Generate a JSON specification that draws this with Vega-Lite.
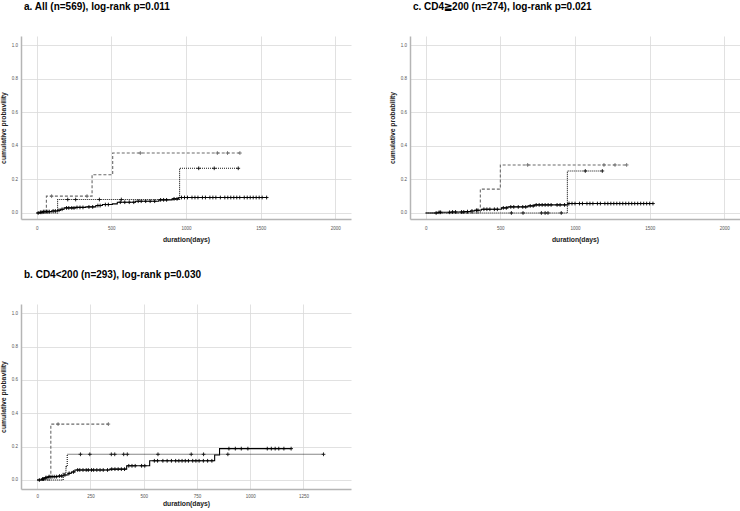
{
  "$schema": "https://vega.github.io/schema/vega-lite/v6.json",
  "background": "white",
  "padding": {"left": 0, "top": 2, "right": 0, "bottom": 0},
  "columns": 2,
  "spacing": {"row": 26, "column": 38},
  "config": {
    "font": "Liberation Sans",
    "view": {"stroke": null},
    "axis": {
      "domainColor": "#b5b5b5", "domainWidth": 1.5,
      "gridColor": "#d9d9d9", "gridWidth": 0.8,
      "ticks": false,
      "labelFontSize": 4.5, "labelColor": "#555555",
      "titleFontSize": 6.8, "titleFontWeight": "bold", "titleColor": "#222222"
    },
    "axisX": {"labelPadding": 6, "titlePadding": 7, "format": "d"},
    "axisY": {"labelPadding": 3.5, "titleX": -15},
    "title": {"anchor": "start", "frame": "group", "dx": 3, "fontSize": 10, "fontWeight": "bold", "color": "#000000", "offset": 24}
  },
  "concat": [
    {
      "title": "a. All (n=569), log-rank p=0.011",
      "width": 330, "height": 183,
      "data": {"values": [
        {"k":"s","g":"S","t":0,"p":0},{"k":"s","g":"S","t":20,"p":0.004},{"k":"s","g":"S","t":40,"p":0.008},{"k":"s","g":"S","t":100,"p":0.012},{"k":"s","g":"S","t":140,"p":0.016},{"k":"s","g":"S","t":160,"p":0.022},{"k":"s","g":"S","t":184,"p":0.03},{"k":"s","g":"S","t":260,"p":0.033},{"k":"s","g":"S","t":329,"p":0.036},{"k":"s","g":"S","t":396,"p":0.044},{"k":"s","g":"S","t":440,"p":0.05},{"k":"s","g":"S","t":507,"p":0.054},{"k":"s","g":"S","t":540,"p":0.064},{"k":"s","g":"S","t":662,"p":0.07},{"k":"s","g":"S","t":818,"p":0.078},{"k":"s","g":"S","t":907,"p":0.084},{"k":"s","g":"S","t":951,"p":0.092},{"k":"s","g":"S","t":1540,"p":0.092},
        {"k":"s","g":"D","t":0,"p":0},{"k":"s","g":"D","t":65,"p":0.1},{"k":"s","g":"D","t":371,"p":0.228},{"k":"s","g":"D","t":509,"p":0.357},{"k":"s","g":"D","t":1361,"p":0.357},
        {"k":"s","g":"T","t":0,"p":0},{"k":"s","g":"T","t":140,"p":0.08},{"k":"s","g":"T","t":957,"p":0.266},{"k":"s","g":"T","t":1350,"p":0.266},
        {"k":"c","g":"D","t":100,"p":0.1},{"k":"c","g":"D","t":337,"p":0.1},{"k":"c","g":"D","t":694,"p":0.357},{"k":"c","g":"D","t":1210,"p":0.357},{"k":"c","g":"D","t":1278,"p":0.357},{"k":"c","g":"D","t":1361,"p":0.357},
        {"k":"c","g":"T","t":208,"p":0.08},{"k":"c","g":"T","t":261,"p":0.08},{"k":"c","g":"T","t":420,"p":0.08},{"k":"c","g":"T","t":567,"p":0.08},{"k":"c","g":"T","t":1085,"p":0.266},{"k":"c","g":"T","t":1189,"p":0.266},{"k":"c","g":"T","t":1350,"p":0.266},
        {"k":"c","g":"S","t":10,"p":0},{"k":"c","g":"S","t":25,"p":0.004},{"k":"c","g":"S","t":35,"p":0.004},{"k":"c","g":"S","t":45,"p":0.008},{"k":"c","g":"S","t":55,"p":0.008},{"k":"c","g":"S","t":65,"p":0.008},{"k":"c","g":"S","t":75,"p":0.008},{"k":"c","g":"S","t":85,"p":0.008},{"k":"c","g":"S","t":110,"p":0.012},{"k":"c","g":"S","t":125,"p":0.012},{"k":"c","g":"S","t":150,"p":0.016},{"k":"c","g":"S","t":170,"p":0.022},{"k":"c","g":"S","t":200,"p":0.03},{"k":"c","g":"S","t":215,"p":0.03},{"k":"c","g":"S","t":235,"p":0.03},{"k":"c","g":"S","t":250,"p":0.03},{"k":"c","g":"S","t":270,"p":0.033},{"k":"c","g":"S","t":290,"p":0.033},{"k":"c","g":"S","t":310,"p":0.033},{"k":"c","g":"S","t":350,"p":0.036},{"k":"c","g":"S","t":375,"p":0.036},{"k":"c","g":"S","t":410,"p":0.044},{"k":"c","g":"S","t":425,"p":0.044},{"k":"c","g":"S","t":460,"p":0.05},{"k":"c","g":"S","t":480,"p":0.05},{"k":"c","g":"S","t":560,"p":0.064},{"k":"c","g":"S","t":590,"p":0.064},{"k":"c","g":"S","t":620,"p":0.064},{"k":"c","g":"S","t":650,"p":0.064},{"k":"c","g":"S","t":680,"p":0.07},{"k":"c","g":"S","t":700,"p":0.07},{"k":"c","g":"S","t":730,"p":0.07},{"k":"c","g":"S","t":760,"p":0.07},{"k":"c","g":"S","t":790,"p":0.07},{"k":"c","g":"S","t":830,"p":0.078},{"k":"c","g":"S","t":850,"p":0.078},{"k":"c","g":"S","t":870,"p":0.078},{"k":"c","g":"S","t":920,"p":0.084},{"k":"c","g":"S","t":940,"p":0.084},{"k":"c","g":"S","t":970,"p":0.092},{"k":"c","g":"S","t":990,"p":0.092},{"k":"c","g":"S","t":1010,"p":0.092},{"k":"c","g":"S","t":1040,"p":0.092},{"k":"c","g":"S","t":1060,"p":0.092},{"k":"c","g":"S","t":1080,"p":0.092},{"k":"c","g":"S","t":1110,"p":0.092},{"k":"c","g":"S","t":1130,"p":0.092},{"k":"c","g":"S","t":1160,"p":0.092},{"k":"c","g":"S","t":1180,"p":0.092},{"k":"c","g":"S","t":1200,"p":0.092},{"k":"c","g":"S","t":1230,"p":0.092},{"k":"c","g":"S","t":1260,"p":0.092},{"k":"c","g":"S","t":1280,"p":0.092},{"k":"c","g":"S","t":1300,"p":0.092},{"k":"c","g":"S","t":1320,"p":0.092},{"k":"c","g":"S","t":1340,"p":0.092},{"k":"c","g":"S","t":1360,"p":0.092},{"k":"c","g":"S","t":1390,"p":0.092},{"k":"c","g":"S","t":1410,"p":0.092},{"k":"c","g":"S","t":1430,"p":0.092},{"k":"c","g":"S","t":1450,"p":0.092},{"k":"c","g":"S","t":1470,"p":0.092},{"k":"c","g":"S","t":1490,"p":0.092},{"k":"c","g":"S","t":1510,"p":0.092},{"k":"c","g":"S","t":1540,"p":0.092}
      ]},
      "encoding": {
        "x": {"field": "t", "type": "quantitative", "scale": {"domain": [-105, 2105], "nice": false, "zero": false}, "axis": {"values": [0, 500, 1000, 1500, 2000], "title": "duration(days)"}},
        "y": {"field": "p", "type": "quantitative", "scale": {"domain": [-0.036, 1.054], "nice": false, "zero": false}, "axis": {"values": [0, 0.2, 0.4, 0.6, 0.8, 1.0], "format": ".1f", "title": "cumulative probavility"}},
        "color": {"field": "g", "type": "nominal", "scale": {"domain": ["S", "D", "T"], "range": ["#000000", "#6a6a6a", "#111111"]}, "legend": null}
      },
      "layer": [
        {"transform": [{"filter": "datum.k == 's'"}], "mark": {"type": "line", "interpolate": "step-after", "strokeWidth": 1.1},
         "encoding": {"strokeDash": {"field": "g", "type": "nominal", "scale": {"domain": ["S", "D", "T"], "range": [[1, 0], [3, 2], [1, 1]]}, "legend": null}}},
        {"transform": [{"filter": "datum.k == 'c'"}], "mark": {"type": "point", "shape": "M-1,0H1M0,-1V1", "size": 14, "filled": false, "strokeWidth": 0.9, "opacity": 1}}
      ]
    },
    {
      "title": "c. CD4≧200 (n=274), log-rank p=0.021",
      "width": 330, "height": 183,
      "data": {"values": [
        {"k":"s","g":"S","t":0,"p":0},{"k":"s","g":"S","t":83,"p":0.004},{"k":"s","g":"S","t":172,"p":0.006},{"k":"s","g":"S","t":261,"p":0.008},{"k":"s","g":"S","t":300,"p":0.012},{"k":"s","g":"S","t":328,"p":0.016},{"k":"s","g":"S","t":373,"p":0.022},{"k":"s","g":"S","t":507,"p":0.03},{"k":"s","g":"S","t":551,"p":0.036},{"k":"s","g":"S","t":685,"p":0.042},{"k":"s","g":"S","t":730,"p":0.048},{"k":"s","g":"S","t":953,"p":0.056},{"k":"s","g":"S","t":1522,"p":0.056},
        {"k":"s","g":"D","t":0,"p":0},{"k":"s","g":"D","t":366,"p":0.142},{"k":"s","g":"D","t":500,"p":0.286},{"k":"s","g":"D","t":1346,"p":0.286},
        {"k":"s","g":"T","t":0,"p":0},{"k":"s","g":"T","t":949,"p":0.25},{"k":"s","g":"T","t":1183,"p":0.25},
        {"k":"c","g":"D","t":683,"p":0.286},{"k":"c","g":"D","t":1194,"p":0.286},{"k":"c","g":"D","t":1268,"p":0.286},{"k":"c","g":"D","t":1346,"p":0.286},
        {"k":"c","g":"T","t":574,"p":0},{"k":"c","g":"T","t":652,"p":0},{"k":"c","g":"T","t":775,"p":0},{"k":"c","g":"T","t":800,"p":0},{"k":"c","g":"T","t":819,"p":0},{"k":"c","g":"T","t":908,"p":0},{"k":"c","g":"T","t":1069,"p":0.25},{"k":"c","g":"T","t":1183,"p":0.25},
        {"k":"c","g":"S","t":70,"p":0},{"k":"c","g":"S","t":90,"p":0.004},{"k":"c","g":"S","t":100,"p":0.004},{"k":"c","g":"S","t":160,"p":0.004},{"k":"c","g":"S","t":180,"p":0.006},{"k":"c","g":"S","t":200,"p":0.006},{"k":"c","g":"S","t":240,"p":0.006},{"k":"c","g":"S","t":255,"p":0.006},{"k":"c","g":"S","t":280,"p":0.008},{"k":"c","g":"S","t":310,"p":0.012},{"k":"c","g":"S","t":340,"p":0.016},{"k":"c","g":"S","t":350,"p":0.016},{"k":"c","g":"S","t":390,"p":0.022},{"k":"c","g":"S","t":410,"p":0.022},{"k":"c","g":"S","t":430,"p":0.022},{"k":"c","g":"S","t":460,"p":0.022},{"k":"c","g":"S","t":480,"p":0.022},{"k":"c","g":"S","t":520,"p":0.03},{"k":"c","g":"S","t":540,"p":0.03},{"k":"c","g":"S","t":570,"p":0.036},{"k":"c","g":"S","t":590,"p":0.036},{"k":"c","g":"S","t":620,"p":0.036},{"k":"c","g":"S","t":650,"p":0.036},{"k":"c","g":"S","t":670,"p":0.036},{"k":"c","g":"S","t":700,"p":0.042},{"k":"c","g":"S","t":720,"p":0.042},{"k":"c","g":"S","t":740,"p":0.048},{"k":"c","g":"S","t":760,"p":0.048},{"k":"c","g":"S","t":780,"p":0.048},{"k":"c","g":"S","t":800,"p":0.048},{"k":"c","g":"S","t":820,"p":0.048},{"k":"c","g":"S","t":840,"p":0.048},{"k":"c","g":"S","t":880,"p":0.048},{"k":"c","g":"S","t":900,"p":0.048},{"k":"c","g":"S","t":930,"p":0.048},{"k":"c","g":"S","t":960,"p":0.056},{"k":"c","g":"S","t":980,"p":0.056},{"k":"c","g":"S","t":1000,"p":0.056},{"k":"c","g":"S","t":1030,"p":0.056},{"k":"c","g":"S","t":1050,"p":0.056},{"k":"c","g":"S","t":1080,"p":0.056},{"k":"c","g":"S","t":1100,"p":0.056},{"k":"c","g":"S","t":1120,"p":0.056},{"k":"c","g":"S","t":1150,"p":0.056},{"k":"c","g":"S","t":1170,"p":0.056},{"k":"c","g":"S","t":1200,"p":0.056},{"k":"c","g":"S","t":1220,"p":0.056},{"k":"c","g":"S","t":1240,"p":0.056},{"k":"c","g":"S","t":1260,"p":0.056},{"k":"c","g":"S","t":1280,"p":0.056},{"k":"c","g":"S","t":1300,"p":0.056},{"k":"c","g":"S","t":1320,"p":0.056},{"k":"c","g":"S","t":1340,"p":0.056},{"k":"c","g":"S","t":1360,"p":0.056},{"k":"c","g":"S","t":1380,"p":0.056},{"k":"c","g":"S","t":1400,"p":0.056},{"k":"c","g":"S","t":1420,"p":0.056},{"k":"c","g":"S","t":1440,"p":0.056},{"k":"c","g":"S","t":1460,"p":0.056},{"k":"c","g":"S","t":1480,"p":0.056},{"k":"c","g":"S","t":1500,"p":0.056},{"k":"c","g":"S","t":1522,"p":0.056}
      ]},
      "encoding": {
        "x": {"field": "t", "type": "quantitative", "scale": {"domain": [-105, 2105], "nice": false, "zero": false}, "axis": {"values": [0, 500, 1000, 1500, 2000], "title": "duration(days)"}},
        "y": {"field": "p", "type": "quantitative", "scale": {"domain": [-0.036, 1.054], "nice": false, "zero": false}, "axis": {"values": [0, 0.2, 0.4, 0.6, 0.8, 1.0], "format": ".1f", "title": "cumulative probability"}},
        "color": {"field": "g", "type": "nominal", "scale": {"domain": ["S", "D", "T"], "range": ["#000000", "#6a6a6a", "#111111"]}, "legend": null}
      },
      "layer": [
        {"transform": [{"filter": "datum.k == 's'"}], "mark": {"type": "line", "interpolate": "step-after", "strokeWidth": 1.1},
         "encoding": {"strokeDash": {"field": "g", "type": "nominal", "scale": {"domain": ["S", "D", "T"], "range": [[1, 0], [3, 2], [1, 1]]}, "legend": null}}},
        {"transform": [{"filter": "datum.k == 'c'"}], "mark": {"type": "point", "shape": "M-1,0H1M0,-1V1", "size": 14, "filled": false, "strokeWidth": 0.9, "opacity": 1}}
      ]
    },
    {
      "title": "b. CD4<200 (n=293), log-rank p=0.030",
      "width": 330, "height": 185,
      "data": {"values": [
        {"k":"s","g":"S","t":0,"p":0},{"k":"s","g":"S","t":20,"p":0.006},{"k":"s","g":"S","t":36,"p":0.014},{"k":"s","g":"S","t":52,"p":0.02},{"k":"s","g":"S","t":98,"p":0.024},{"k":"s","g":"S","t":122,"p":0.03},{"k":"s","g":"S","t":145,"p":0.04},{"k":"s","g":"S","t":161,"p":0.048},{"k":"s","g":"S","t":177,"p":0.06},{"k":"s","g":"S","t":341,"p":0.065},{"k":"s","g":"S","t":420,"p":0.085},{"k":"s","g":"S","t":528,"p":0.115},{"k":"s","g":"S","t":833,"p":0.15},{"k":"s","g":"S","t":856,"p":0.188},{"k":"s","g":"S","t":1192,"p":0.188},
        {"k":"s","g":"D","t":0,"p":0},{"k":"s","g":"D","t":64,"p":0.335},{"k":"s","g":"D","t":334,"p":0.335},
        {"k":"s","g":"T","t":0,"p":0},{"k":"s","g":"T","t":122,"p":0.04},{"k":"s","g":"T","t":135,"p":0.08},{"k":"s","g":"T","t":141,"p":0.154},{"k":"s","g":"T","t":1344,"p":0.154},
        {"k":"c","g":"D","t":98,"p":0.335},{"k":"c","g":"D","t":334,"p":0.335},
        {"k":"c","g":"T","t":203,"p":0.154},{"k":"c","g":"T","t":247,"p":0.154},{"k":"c","g":"T","t":348,"p":0.154},{"k":"c","g":"T","t":364,"p":0.154},{"k":"c","g":"T","t":406,"p":0.154},{"k":"c","g":"T","t":423,"p":0.154},{"k":"c","g":"T","t":567,"p":0.154},{"k":"c","g":"T","t":723,"p":0.154},{"k":"c","g":"T","t":781,"p":0.154},{"k":"c","g":"T","t":895,"p":0.154},{"k":"c","g":"T","t":1344,"p":0.154},
        {"k":"c","g":"S","t":10,"p":0},{"k":"c","g":"S","t":25,"p":0.006},{"k":"c","g":"S","t":30,"p":0.006},{"k":"c","g":"S","t":40,"p":0.014},{"k":"c","g":"S","t":45,"p":0.014},{"k":"c","g":"S","t":55,"p":0.02},{"k":"c","g":"S","t":60,"p":0.02},{"k":"c","g":"S","t":70,"p":0.02},{"k":"c","g":"S","t":80,"p":0.02},{"k":"c","g":"S","t":90,"p":0.02},{"k":"c","g":"S","t":105,"p":0.024},{"k":"c","g":"S","t":115,"p":0.024},{"k":"c","g":"S","t":130,"p":0.03},{"k":"c","g":"S","t":150,"p":0.04},{"k":"c","g":"S","t":170,"p":0.048},{"k":"c","g":"S","t":190,"p":0.06},{"k":"c","g":"S","t":200,"p":0.06},{"k":"c","g":"S","t":215,"p":0.06},{"k":"c","g":"S","t":230,"p":0.06},{"k":"c","g":"S","t":240,"p":0.06},{"k":"c","g":"S","t":255,"p":0.06},{"k":"c","g":"S","t":265,"p":0.06},{"k":"c","g":"S","t":280,"p":0.06},{"k":"c","g":"S","t":295,"p":0.06},{"k":"c","g":"S","t":310,"p":0.06},{"k":"c","g":"S","t":330,"p":0.06},{"k":"c","g":"S","t":350,"p":0.065},{"k":"c","g":"S","t":365,"p":0.065},{"k":"c","g":"S","t":380,"p":0.065},{"k":"c","g":"S","t":395,"p":0.065},{"k":"c","g":"S","t":410,"p":0.065},{"k":"c","g":"S","t":430,"p":0.085},{"k":"c","g":"S","t":445,"p":0.085},{"k":"c","g":"S","t":460,"p":0.085},{"k":"c","g":"S","t":490,"p":0.085},{"k":"c","g":"S","t":505,"p":0.085},{"k":"c","g":"S","t":550,"p":0.115},{"k":"c","g":"S","t":565,"p":0.115},{"k":"c","g":"S","t":590,"p":0.115},{"k":"c","g":"S","t":610,"p":0.115},{"k":"c","g":"S","t":630,"p":0.115},{"k":"c","g":"S","t":650,"p":0.115},{"k":"c","g":"S","t":665,"p":0.115},{"k":"c","g":"S","t":680,"p":0.115},{"k":"c","g":"S","t":695,"p":0.115},{"k":"c","g":"S","t":710,"p":0.115},{"k":"c","g":"S","t":730,"p":0.115},{"k":"c","g":"S","t":745,"p":0.115},{"k":"c","g":"S","t":760,"p":0.115},{"k":"c","g":"S","t":780,"p":0.115},{"k":"c","g":"S","t":800,"p":0.115},{"k":"c","g":"S","t":820,"p":0.115},{"k":"c","g":"S","t":900,"p":0.188},{"k":"c","g":"S","t":930,"p":0.188},{"k":"c","g":"S","t":958,"p":0.188},{"k":"c","g":"S","t":989,"p":0.188},{"k":"c","g":"S","t":1080,"p":0.188},{"k":"c","g":"S","t":1099,"p":0.188},{"k":"c","g":"S","t":1117,"p":0.188},{"k":"c","g":"S","t":1134,"p":0.188},{"k":"c","g":"S","t":1158,"p":0.188},{"k":"c","g":"S","t":1192,"p":0.188}
      ]},
      "encoding": {
        "x": {"field": "t", "type": "quantitative", "scale": {"domain": [-76, 1473], "nice": false, "zero": false}, "axis": {"values": [0, 250, 500, 750, 1000, 1250], "title": "duration(days)", "labelPadding": 4, "titlePadding": 3}},
        "y": {"field": "p", "type": "quantitative", "scale": {"domain": [-0.054, 1.055], "nice": false, "zero": false}, "axis": {"values": [0, 0.2, 0.4, 0.6, 0.8, 1.0], "format": ".1f", "title": "cumulative probavility"}},
        "color": {"field": "g", "type": "nominal", "scale": {"domain": ["S", "D", "T"], "range": ["#000000", "#6a6a6a", "#111111"]}, "legend": null}
      },
      "layer": [
        {"transform": [{"filter": "datum.k == 's'"}], "mark": {"type": "line", "interpolate": "step-after", "strokeWidth": 1.1},
         "encoding": {"strokeDash": {"field": "g", "type": "nominal", "scale": {"domain": ["S", "D", "T"], "range": [[1, 0], [3, 2], [1, 1]]}, "legend": null}}},
        {"transform": [{"filter": "datum.k == 'c'"}], "mark": {"type": "point", "shape": "M-1,0H1M0,-1V1", "size": 14, "filled": false, "strokeWidth": 0.9, "opacity": 1}}
      ]
    }
  ]
}
